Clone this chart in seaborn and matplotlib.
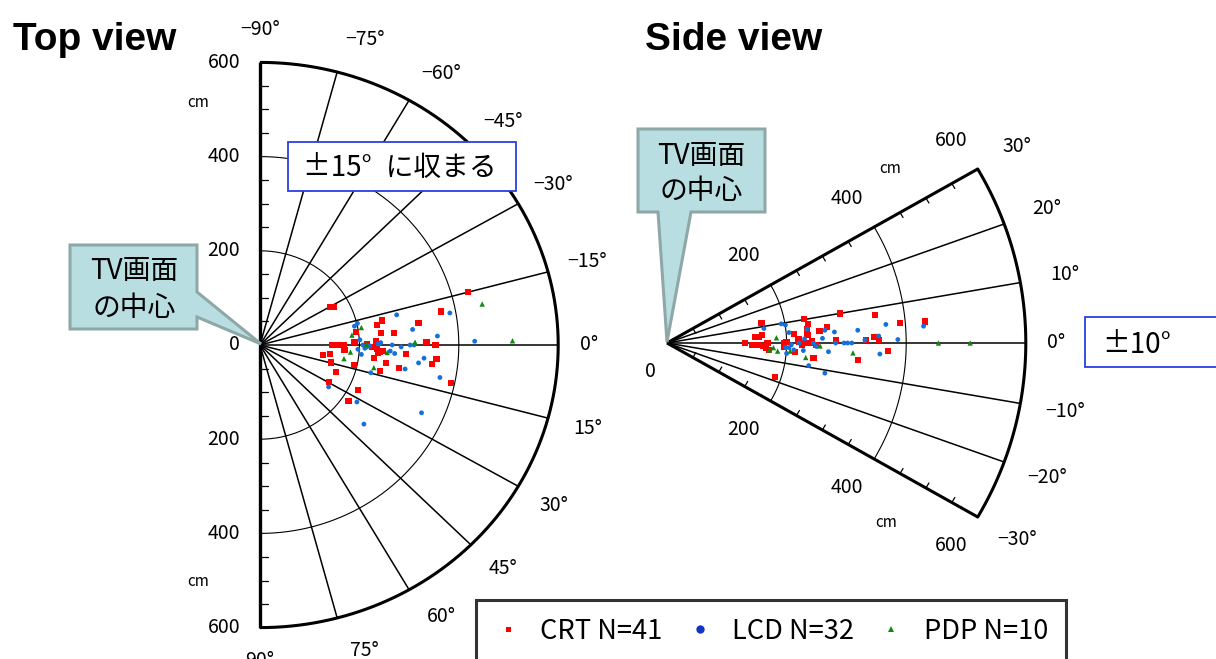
import numpy as np
import pandas as pd
import matplotlib
matplotlib.use("Agg")
import matplotlib.pyplot as plt
from matplotlib.patches import Polygon, Rectangle
from matplotlib.lines import Line2D
from matplotlib import font_manager
import seaborn as sns

# ---------------- viewing positions (cm) ----------------
# Top view: forward distance from the screen, lateral offset (+ = lower half / positive angle)
top_crt_x = [141, 149, 419, 364, 319, 245, 235, 244, 193, 270, 190, 153, 161, 168, 215, 233,
             335, 353, 127, 141, 170, 235, 237, 248, 229, 143, 189, 254, 294, 279, 242, 355,
             346, 153, 139, 385, 197, 178, 241, 226, 146]
top_crt_y = [-81, -80, -113, -71, -46, -52, -42, -26, -27, -25, -7, 0, 0, 0, -2, -8,
             -6, 0, 22, 19, 11, 9, 16, 13, 28, 37, 43, 38, 19, 48, 55, 30,
             41, 58, 79, 81, 96, 119, 14, 5, 0]
top_lcd_x = [275, 382, 307, 357, 190, 196, 201, 207, 211, 215, 221, 237, 243, 266, 284, 302,
             310, 432, 197, 204, 262, 271, 330, 319, 292, 223, 362, 138, 195, 325, 209, 240]
top_lcd_y = [-64, -68, -33, -19, -40, -46, -11, 0, 7, 4, 2, -2, -5, 0, 4, 0,
             0, -8, 9, 20, 13, 18, 28, 38, 51, 59, 69, 89, 121, 144, 168, -3]
top_pdp_x = [447, 508, 185, 204, 182, 169, 229, 256, 312, 214]
top_pdp_y = [-87, -9, -21, -37, 15, 29, 48, 16, -6, -1]

# Side view: forward distance, vertical offset (+ = above the screen centre)
side_crt_x = [130, 142, 153, 148, 154, 159, 158, 168, 166, 170, 195, 195, 214, 181, 213, 229,
              236, 234, 235, 220, 221, 230, 239, 249, 255, 268, 245, 283, 289, 319, 333, 348,
              347, 355, 369, 390, 432, 226, 243, 160, 200]
side_crt_y = [0, -3, -3, 10, 11, 14, 34, 0, -9, -12, 0, -6, -15, -59, 16, 41,
              33, 24, 14, 6, 2, 0, 0, -3, 21, 28, -26, 5, 51, -29, 5, 48,
              11, 5, -14, 34, 37, -4, 3, -5, 2]
side_lcd_x = [162, 191, 198, 204, 198, 204, 200, 212, 228, 221, 230, 234, 245, 260, 264, 280,
              282, 270, 237, 264, 296, 302, 309, 319, 331, 354, 356, 366, 386, 429, 208, 250]
side_lcd_y = [25, 33, 31, 18, -8, -8, -18, -12, -13, 0, 7, 24, 0, 8, 22, 19,
              0, -15, -39, -52, 0, 0, 0, 22, 5, 12, -19, 32, 6, 29, -3, -6]
side_pdp_x = [183, 171, 185, 206, 232, 256, 311, 454, 507, 178]
side_pdp_y = [9, -12, -14, -14, -25, -5, -17, 0, 0, -8]

# ---------------- scales / labels ----------------
display_types = ["CRT", "LCD", "PDP"]
type_counts = [41, 32, 10]
top_radius_ticks = [-600, -400, -200, 0, 200, 400, 600]
top_angle_ticks = list(range(-90, 91, 15))
side_radius_ticks = [200, 400, 600]
side_angle_ticks = list(range(-30, 31, 10))
R_MAX = 600

point_colors = {"CRT": "#ff0000", "LCD": "#1670dc", "PDP": "#118811"}
point_markers = {"CRT": "s", "LCD": "o", "PDP": "^"}
point_sizes = {"CRT": 20, "LCD": 12, "PDP": 15}


def frame(xs, ys, types):
    return pd.DataFrame({"x": xs, "y": ys, "type": types})


top_df = pd.concat([
    frame(top_crt_x, top_crt_y, "CRT"),
    frame(top_lcd_x, top_lcd_y, "LCD"),
    frame(top_pdp_x, top_pdp_y, "PDP"),
], ignore_index=True)
side_df = pd.concat([
    frame(side_crt_x, side_crt_y, "CRT"),
    frame(side_lcd_x, side_lcd_y, "LCD"),
    frame(side_pdp_x, side_pdp_y, "PDP"),
], ignore_index=True)

sns.set_style("white")
plt.rcParams["font.family"] = ["Noto Sans CJK JP", "DejaVu Sans"]
plt.rcParams["text.color"] = "black"
plt.rcParams["axes.unicode_minus"] = True

installed = {f.name for f in font_manager.fontManager.ttflist}
if "Liberation Sans Narrow" in installed:
    title_family, title_size = ["Liberation Sans Narrow", "DejaVu Sans"], 34
else:
    title_family, title_size = ["Liberation Sans", "DejaVu Sans"], 28

W, H = 1216, 659
fig = plt.figure(figsize=(W / 100, H / 100), dpi=100)


def fpt(px, py):
    return (px / W, 1 - py / H)


def deg_label(a):
    return ("\u2212" if a < 0 else "") + f"{abs(a)}°"


INK = "black"

# ======================= Top view =======================
ax1 = fig.add_axes([0, 0, 620 / W, 1])
TOP_SX, TOP_SY, TCX, TCY = 0.497, 0.471, 260, 345
sns.scatterplot(data=top_df, x="x", y="y", hue="type", style="type", size="type",
                hue_order=display_types, palette=point_colors, markers=point_markers,
                sizes=point_sizes, linewidth=0, legend=False, ax=ax1, zorder=5)
ax1.set_xlim(-TCX / TOP_SX, (620 - TCX) / TOP_SX)
ax1.set_ylim((H - TCY) / TOP_SY, -TCY / TOP_SY)
ax1.axis("off")

th = np.radians(np.linspace(-90, 90, 361))
for r in (200, 400):
    ax1.plot(r * np.cos(th), r * np.sin(th), color=INK, lw=0.8, zorder=2)
ax1.plot(R_MAX * np.cos(th), R_MAX * np.sin(th), color=INK, lw=2.2, zorder=3,
         solid_capstyle="butt")
for a in top_angle_ticks[1:-1]:
    t = np.radians(a)
    ax1.plot([0, R_MAX * np.cos(t)], [0, R_MAX * np.sin(t)], color=INK, lw=1.1, zorder=2)
# radial scale along the screen plane
ax1.plot([0, 0], [-R_MAX, R_MAX], color=INK, lw=2.4, zorder=3, solid_capstyle="butt")
for v in range(-550, 551, 50):
    if v % 200:
        ax1.plot([0, 16], [v, v], color=INK, lw=0.9, zorder=3)
for v in top_radius_ticks:
    ax1.text(-40, v, str(abs(v)), ha="right", va="center", fontsize=14)
ax1.text(-125, -514, "cm", ha="center", va="center", fontsize=11)
ax1.text(-125, 503, "cm", ha="center", va="center", fontsize=11)
label_angle_scale = {60: 0.96, 75: 0.96, 45: 0.98}
for a in top_angle_ticks:
    r = {0: 662, 90: 670}.get(abs(a), 682)
    t = np.radians(a * label_angle_scale.get(abs(a), 1.0))
    ax1.text(r * np.cos(t), r * np.sin(t), deg_label(a), ha="center", va="center",
             fontsize=14, clip_on=False)

# ======================= Side view =======================
ax2 = fig.add_axes([620 / W, 0, 596 / W, 1])
SIDE_SX, SIDE_SY, SCX, SCY = 0.598, 0.58, 667 - 620, 343
sns.scatterplot(data=side_df, x="x", y="y", hue="type", style="type", size="type",
                hue_order=display_types, palette=point_colors, markers=point_markers,
                sizes=point_sizes, linewidth=0, legend=False, ax=ax2, zorder=5)
ax2.set_xlim(-SCX / SIDE_SX, (596 - SCX) / SIDE_SX)
ax2.set_ylim(-(H - SCY) / SIDE_SY, SCY / SIDE_SY)
ax2.axis("off")

ths = np.radians(np.linspace(-30, 30, 121))
for r in (200, 400):
    ax2.plot(r * np.cos(ths), r * np.sin(ths), color=INK, lw=0.8, zorder=2)
ax2.plot(R_MAX * np.cos(ths), R_MAX * np.sin(ths), color=INK, lw=2.2, zorder=3)
for a in side_angle_ticks:
    t = np.radians(a)
    edge = abs(a) == 30
    ax2.plot([0, R_MAX * np.cos(t)], [0, R_MAX * np.sin(t)], color=INK,
             lw=2.2 if edge else 1.1, zorder=3 if edge else 2, solid_capstyle="butt")
    if edge:
        s = np.sign(a)
        ux, uy = np.cos(t), np.sin(t)
        nx, ny = np.sin(np.radians(30)), -s * np.cos(np.radians(30))
        for r in range(50, 600, 50):
            if r % 200:
                ax2.plot([r * ux, r * ux + 10 * nx], [r * uy, r * uy + 10 * ny],
                         color=INK, lw=0.9, zorder=3)
        for r in side_radius_ticks:
            ax2.text(r * ux - 45, r * uy + s * 50, str(r), ha="center", va="center",
                     fontsize=14)
ax2.text(373, 300, "cm", ha="center", va="center", fontsize=11)
ax2.text(366, -310, "cm", ha="center", va="center", fontsize=11)
ax2.text(-28, -50, "0", ha="center", va="center", fontsize=14)
for a in side_angle_ticks:
    r = 650 if a == 0 else 676
    t = np.radians(a)
    ax2.text(r * np.cos(t), r * np.sin(t), deg_label(a), ha="center", va="center",
             fontsize=14, clip_on=False)

# ======================= Titles =======================
fig.text(*fpt(13, 50), "Top view", fontsize=title_size, fontweight="bold",
         family=title_family, ha="left", va="baseline")
fig.text(*fpt(645, 50), "Side view", fontsize=title_size, fontweight="bold",
         family=title_family, ha="left", va="baseline")

# ======================= Call-outs =======================
callout_face, callout_edge = "#b8dee2", "#8ea8a8"
top_call = [(70, 245), (197, 245), (197, 292), (261, 344), (197, 317), (197, 329), (70, 329)]
side_call = [(638, 129), (765, 129), (765, 212), (691, 212), (667, 342), (658, 212), (638, 212)]
for pts in (top_call, side_call):
    fig.add_artist(Polygon([fpt(*p) for p in pts], closed=True, transform=fig.transFigure,
                           facecolor=callout_face, edgecolor=callout_edge, lw=2.2,
                           joinstyle="miter"))
fig.text(*fpt(134, 271), "TV画面", ha="center", va="center", fontsize=20)
fig.text(*fpt(134, 308), "の中心", ha="center", va="center", fontsize=20)
fig.text(*fpt(701, 156), "TV画面", ha="center", va="center", fontsize=20)
fig.text(*fpt(701, 191), "の中心", ha="center", va="center", fontsize=20)

# range notes
for (x0, y0, x1, y1) in ((288, 142, 516, 191), (1085, 317, 1240, 367)):
    fig.add_artist(Rectangle(fpt(x0, y1), (x1 - x0) / W, (y1 - y0) / H,
                             transform=fig.transFigure, facecolor="white",
                             edgecolor="#2a3ee8", lw=1.3))
fig.text(*fpt(400, 168), "±15°\u2002に収まる", ha="center", va="center", fontsize=20)
fig.text(*fpt(1102, 345), "±10°", ha="left", va="center", fontsize=20)

# ======================= Legend =======================
legend_colors = ["#ff0000", "#1535c0", "#118811"]
legend_sizes = [3.6, 6.0, 3.8]
handles = [Line2D([], [], linestyle="", marker=point_markers[t], color=c, markersize=ms,
                  markeredgewidth=0)
           for t, c, ms in zip(display_types, legend_colors, legend_sizes)]
labels = [f"{t} N={n}" for t, n in zip(display_types, type_counts)]
leg = fig.legend(handles, labels, ncol=3, loc="upper left",
                 bbox_to_anchor=fpt(476, 600), bbox_transform=fig.transFigure,
                 fontsize=19.6, frameon=True, fancybox=False, borderpad=0.66,
                 handlelength=1.0, handletextpad=0.70, columnspacing=0.86,
                 borderaxespad=0)
leg.get_frame().set_edgecolor("black")
leg.get_frame().set_linewidth(2.2)
for txt in leg.get_texts():
    txt.set_color("black")

fig.savefig("out.png", dpi=100)
